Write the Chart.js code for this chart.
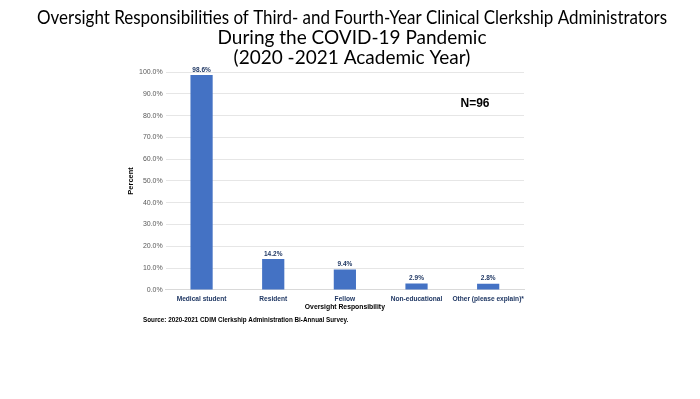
<!DOCTYPE html>
<html>
<head>
<meta charset="utf-8">
<script src="https://cdn.jsdelivr.net/npm/chart.js@4/dist/chart.umd.min.js"></script>
<style>
  html, body { margin: 0; padding: 0; background: #fff; }
  #wrap { width: 700px; height: 399px; position: relative; }
</style>
</head>
<body>
<div id="wrap"><canvas id="chart"></canvas></div>
<script>
// data
const categories = ["Medical student", "Resident", "Fellow", "Non-educational", "Other (please explain)*"];
const percents = [98.6, 14.2, 9.4, 2.9, 2.8];
const titleLines = [
  "Oversight Responsibilities of Third- and Fourth-Year Clinical Clerkship Administrators",
  "During the COVID-19 Pandemic",
  "(2020 -2021 Academic Year)"
];
const sampleNote = "N=96";
const sourceNote = "Source: 2020-2021 CDIM Clerkship Administration Bi-Annual Survey.";

const barBlue = "#4472c4";
const labelBlue = "#203864";

// title, value labels, N, source
const extrasPlugin = {
  id: "extras",
  afterDraw(chart) {
    const ctx = chart.ctx;
    const meta = chart.getDatasetMeta(0);
    ctx.save();
    ctx.textAlign = "center";
    ctx.textBaseline = "middle";
    ctx.fillStyle = "#000";
    ctx.font = "19px Lato, sans-serif";
    titleLines.forEach((line, i) => ctx.fillText(line, 352, 18 + i * 20, 630));

    ctx.fillStyle = labelBlue;
    ctx.font = "bold 6.5px 'Liberation Sans', sans-serif";
    ctx.textBaseline = "bottom";
    meta.data.forEach((bar, i) => {
      ctx.fillText(percents[i].toFixed(1) + "%", bar.x, bar.y - 2);
    });
    ctx.fillStyle = "#000";
    ctx.font = "bold 12px 'Liberation Sans', sans-serif";
    ctx.fillText(sampleNote, 475, 110);
    ctx.font = "bold 6.3px 'Liberation Sans', sans-serif";
    ctx.textAlign = "left";
    ctx.textBaseline = "middle";
    ctx.fillText(sourceNote, 143, 320);
    ctx.restore();
  }
};

new Chart(document.getElementById("chart"), {
  type: "bar",
  data: {
    labels: categories,
    datasets: [{
      data: percents,
      backgroundColor: barBlue,
      categoryPercentage: 1,
      barPercentage: 0.31
    }]
  },
  options: {
    responsive: true,
    maintainAspectRatio: false,
    animation: false,
    layout: { padding: { left: 126, right: 176, top: 72, bottom: 88 } },
    plugins: {
      legend: { display: false },
      tooltip: { enabled: false },
      title: { display: false }
    },
    scales: {
      x: {
        grid: { display: false, drawTicks: false },
        border: { color: "#d9d9d9" },
        ticks: {
          color: labelBlue,
          font: { family: "Liberation Sans", size: 6.6, weight: "bold" },
          maxRotation: 0,
          autoSkip: false,
          padding: 5
        },
        title: {
          display: true,
          text: "Oversight Responsibility",
          color: "#000",
          font: { family: "Liberation Sans", size: 6.8, weight: "bold" },
          padding: { top: -5, bottom: 0 }
        }
      },
      y: {
        min: 0,
        max: 100,
        grid: { color: "#e6e6e6", drawTicks: false },
        border: { display: false },
        ticks: {
          stepSize: 10,
          color: "#595959",
          font: { family: "Liberation Sans", size: 7 },
          padding: 3,
          callback: v => v.toFixed(1) + "%"
        },
        title: {
          display: true,
          text: "Percent",
          color: "#000",
          font: { family: "Liberation Sans", size: 7.5, weight: "bold" },
          padding: { top: 0, bottom: 1 }
        }
      }
    }
  },
  plugins: [extrasPlugin]
});
</script>
</body>
</html>
